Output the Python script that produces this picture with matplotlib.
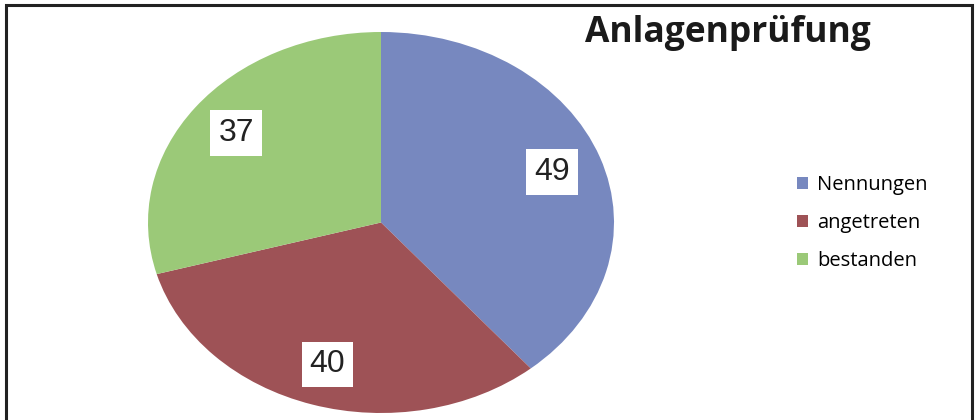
import matplotlib
matplotlib.use('Agg')
import matplotlib.pyplot as plt
from matplotlib.patches import Rectangle

# Daten
kategorien = ["Nennungen", "angetreten", "bestanden"]
werte = [49, 40, 37]
farben = ["#7788BF", "#9E5256", "#9BC978"]
titel = "Anlagenprüfung"

fig = plt.figure(figsize=(9.79, 4.2), dpi=100)

# Rahmen (unten abgeschnitten)
fig.patches.append(Rectangle((6 / 979, -0.05), 966 / 979, 1.05 - 5 / 420,
                             transform=fig.transFigure, fill=False,
                             edgecolor="#222222", linewidth=2.2, clip_on=False))

# Kreisdiagramm (leicht elliptisch wie im Original)
ax = fig.add_axes([148 / 979, 7 / 420, 466 / 979, 381 / 420])
wedges, texte, autotexte = ax.pie(
    werte, colors=farben, startangle=90, counterclock=False,
    autopct=lambda p: f"{p * sum(werte) / 100:.0f}", pctdistance=0.78,
    wedgeprops=dict(linewidth=0),
    textprops=dict(fontsize=23, family="Liberation Sans", color="#222222"))
ax.set_aspect("auto")
ax.set_xlim(-1, 1)
ax.set_ylim(-1, 1)
for t in autotexte:
    t.set_bbox(dict(boxstyle="square,pad=0.25", facecolor="white", edgecolor="none"))

# Titel
fig.text(585 / 979, 1 - 42 / 420, titel, fontsize=25.5, fontweight="bold",
         family="Open Sans", color="#1a1a1a", va="baseline", ha="left")

# Legende
fig.legend(wedges, kategorien, loc="center left",
           bbox_to_anchor=(797 / 979, 1 - 223 / 420), frameon=False,
           handlelength=0.55, handleheight=0.55,
           handletextpad=0.45, labelspacing=0.9, borderpad=0, borderaxespad=0,
           prop=dict(family="Open Sans", size=14.5))

fig.savefig("out.png", dpi=100)
